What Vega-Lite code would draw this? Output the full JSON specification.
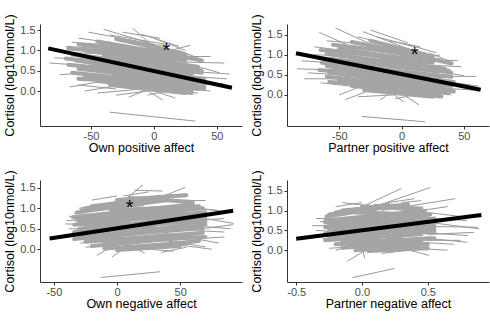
{
"$schema": "https://vega.github.io/schema/vega-lite/v6.json",
"padding": {"left": 3, "top": 13, "right": 4, "bottom": 2},
"background": "white",
"config": {
 "view": {"stroke": null},
 "font": "Liberation Sans",
 "axis": {"grid": false, "domainColor": "#333333", "tickColor": "#333333", "domainWidth": 1, "tickWidth": 1, "tickSize": 3, "labelFont": "Liberation Sans", "labelFontSize": 11, "labelColor": "#4d4d4d", "titleFont": "Liberation Sans", "titleFontSize": 12.5, "titleFontWeight": "normal", "titleColor": "#000000", "labelPadding": 2, "titlePadding": 3},
 "axisX": {"titlePadding": 0, "labelPadding": 1}
},
"datasets": {
 "core": [
  {"p":1,"x":-68,"y":1.05,"x2":10,"y2":0.85},{"p":1,"x":-60,"y":1.15,"x2":0,"y2":0.95},{"p":1,"x":-45,"y":1.22,"x2":15,"y2":0.9},{"p":1,"x":-30,"y":1.28,"x2":20,"y2":0.95},{"p":1,"x":-55,"y":1.0,"x2":35,"y2":0.6},{"p":1,"x":-65,"y":0.9,"x2":30,"y2":0.55},{"p":1,"x":-70,"y":0.8,"x2":38,"y2":0.45},{"p":1,"x":-62,"y":0.75,"x2":40,"y2":0.3},{"p":1,"x":-68,"y":0.65,"x2":25,"y2":0.35},{"p":1,"x":-60,"y":0.55,"x2":40,"y2":0.2},{"p":1,"x":-65,"y":0.45,"x2":30,"y2":0.15},{"p":1,"x":-55,"y":0.35,"x2":35,"y2":0.05},{"p":1,"x":-45,"y":0.25,"x2":30,"y2":0.0},{"p":1,"x":-35,"y":0.15,"x2":25,"y2":-0.05},{"p":1,"x":-20,"y":0.1,"x2":30,"y2":-0.05},{"p":1,"x":-50,"y":1.1,"x2":25,"y2":0.75},{"p":1,"x":-40,"y":0.9,"x2":38,"y2":0.5},{"p":1,"x":-58,"y":0.6,"x2":20,"y2":0.5},{"p":1,"x":-45,"y":0.5,"x2":38,"y2":0.25},{"p":1,"x":-25,"y":1.1,"x2":30,"y2":0.8},{"p":1,"x":-15,"y":1.2,"x2":25,"y2":0.9},{"p":1,"x":-50,"y":0.7,"x2":30,"y2":0.42},{"p":1,"x":-30,"y":0.4,"x2":40,"y2":0.1},{"p":1,"x":-60,"y":0.3,"x2":0,"y2":0.2},{"p":1,"x":-10,"y":0.3,"x2":40,"y2":0.05},{"p":1,"x":-35,"y":1.0,"x2":15,"y2":0.72},{"p":1,"x":-20,"y":0.75,"x2":35,"y2":0.55},{"p":1,"x":-5,"y":1.05,"x2":38,"y2":0.75},{"p":1,"x":-40,"y":0.3,"x2":10,"y2":0.05},{"p":1,"x":-55,"y":0.85,"x2":5,"y2":0.65},
  {"p":2,"x":-65,"y":1.12,"x2":5,"y2":0.9},{"p":2,"x":-55,"y":1.25,"x2":0,"y2":1.05},{"p":2,"x":-40,"y":1.32,"x2":12,"y2":1.02},{"p":2,"x":-25,"y":1.35,"x2":20,"y2":1.0},{"p":2,"x":-60,"y":1.02,"x2":35,"y2":0.65},{"p":2,"x":-66,"y":0.92,"x2":30,"y2":0.58},{"p":2,"x":-64,"y":0.8,"x2":40,"y2":0.45},{"p":2,"x":-60,"y":0.72,"x2":42,"y2":0.32},{"p":2,"x":-66,"y":0.62,"x2":25,"y2":0.38},{"p":2,"x":-58,"y":0.55,"x2":40,"y2":0.22},{"p":2,"x":-60,"y":0.45,"x2":32,"y2":0.15},{"p":2,"x":-50,"y":0.35,"x2":38,"y2":0.05},{"p":2,"x":-40,"y":0.22,"x2":30,"y2":0.02},{"p":2,"x":-30,"y":0.12,"x2":25,"y2":-0.05},{"p":2,"x":-15,"y":0.08,"x2":32,"y2":-0.04},{"p":2,"x":-50,"y":1.15,"x2":25,"y2":0.8},{"p":2,"x":-42,"y":0.95,"x2":40,"y2":0.55},{"p":2,"x":-55,"y":0.62,"x2":20,"y2":0.5},{"p":2,"x":-45,"y":0.5,"x2":40,"y2":0.28},{"p":2,"x":-25,"y":1.15,"x2":32,"y2":0.85},{"p":2,"x":-12,"y":1.22,"x2":25,"y2":0.95},{"p":2,"x":-50,"y":0.75,"x2":32,"y2":0.45},{"p":2,"x":-30,"y":0.4,"x2":40,"y2":0.12},{"p":2,"x":-58,"y":0.32,"x2":0,"y2":0.2},{"p":2,"x":-10,"y":0.3,"x2":42,"y2":0.08},{"p":2,"x":-35,"y":1.05,"x2":18,"y2":0.75},{"p":2,"x":-18,"y":0.8,"x2":38,"y2":0.6},{"p":2,"x":-2,"y":1.08,"x2":40,"y2":0.78},{"p":2,"x":-40,"y":0.32,"x2":10,"y2":0.02},{"p":2,"x":-58,"y":0.9,"x2":5,"y2":0.68},
  {"p":3,"x":-32,"y":0.9,"x2":40,"y2":1.2},{"p":3,"x":-20,"y":1.05,"x2":45,"y2":1.3},{"p":3,"x":0,"y":1.2,"x2":55,"y2":1.32},{"p":3,"x":-35,"y":0.78,"x2":60,"y2":1.1},{"p":3,"x":-30,"y":0.68,"x2":68,"y2":1.0},{"p":3,"x":-34,"y":0.6,"x2":70,"y2":0.9},{"p":3,"x":-30,"y":0.5,"x2":70,"y2":0.8},{"p":3,"x":-34,"y":0.42,"x2":65,"y2":0.7},{"p":3,"x":-30,"y":0.32,"x2":70,"y2":0.6},{"p":3,"x":-34,"y":0.25,"x2":60,"y2":0.5},{"p":3,"x":-25,"y":0.18,"x2":68,"y2":0.4},{"p":3,"x":-20,"y":0.08,"x2":60,"y2":0.3},{"p":3,"x":-10,"y":0.02,"x2":55,"y2":0.15},{"p":3,"x":0,"y":-0.02,"x2":50,"y2":0.08},{"p":3,"x":-28,"y":0.95,"x2":20,"y2":1.1},{"p":3,"x":10,"y":1.25,"x2":60,"y2":1.15},{"p":3,"x":-25,"y":0.55,"x2":55,"y2":0.95},{"p":3,"x":-15,"y":0.3,"x2":70,"y2":0.65},{"p":3,"x":-30,"y":0.4,"x2":30,"y2":0.55},{"p":3,"x":5,"y":0.2,"x2":70,"y2":0.3},{"p":3,"x":-20,"y":0.7,"x2":60,"y2":0.85},{"p":3,"x":-5,"y":0.95,"x2":65,"y2":1.05},{"p":3,"x":15,"y":0.05,"x2":65,"y2":0.2},{"p":3,"x":-32,"y":0.72,"x2":25,"y2":0.95},{"p":3,"x":-10,"y":0.15,"x2":40,"y2":0.35},{"p":3,"x":20,"y":0.75,"x2":70,"y2":0.7},{"p":3,"x":-25,"y":1.0,"x2":30,"y2":1.25},{"p":3,"x":-20,"y":0.25,"x2":35,"y2":0.25},{"p":3,"x":0,"y":0.5,"x2":68,"y2":0.5},{"p":3,"x":-15,"y":0.8,"x2":45,"y2":1.0},
  {"p":4,"x":-0.27,"y":0.85,"x2":0.25,"y2":1.12},{"p":4,"x":-0.15,"y":1.0,"x2":0.35,"y2":1.15},{"p":4,"x":0.0,"y":1.1,"x2":0.45,"y2":1.05},{"p":4,"x":-0.28,"y":0.75,"x2":0.45,"y2":0.98},{"p":4,"x":-0.25,"y":0.65,"x2":0.52,"y2":0.9},{"p":4,"x":-0.28,"y":0.58,"x2":0.55,"y2":0.8},{"p":4,"x":-0.25,"y":0.5,"x2":0.55,"y2":0.7},{"p":4,"x":-0.28,"y":0.42,"x2":0.5,"y2":0.6},{"p":4,"x":-0.25,"y":0.32,"x2":0.55,"y2":0.5},{"p":4,"x":-0.28,"y":0.25,"x2":0.45,"y2":0.4},{"p":4,"x":-0.2,"y":0.15,"x2":0.52,"y2":0.3},{"p":4,"x":-0.15,"y":0.06,"x2":0.45,"y2":0.2},{"p":4,"x":-0.05,"y":0.0,"x2":0.4,"y2":0.1},{"p":4,"x":0.05,"y":-0.02,"x2":0.5,"y2":0.05},{"p":4,"x":-0.25,"y":0.9,"x2":0.1,"y2":1.05},{"p":4,"x":0.1,"y":1.12,"x2":0.48,"y2":0.98},{"p":4,"x":-0.2,"y":0.55,"x2":0.45,"y2":0.85},{"p":4,"x":-0.1,"y":0.3,"x2":0.55,"y2":0.55},{"p":4,"x":-0.25,"y":0.4,"x2":0.2,"y2":0.5},{"p":4,"x":0.05,"y":0.2,"x2":0.55,"y2":0.3},{"p":4,"x":-0.15,"y":0.7,"x2":0.5,"y2":0.78},{"p":4,"x":-0.05,"y":0.95,"x2":0.5,"y2":0.9},{"p":4,"x":0.1,"y":0.05,"x2":0.5,"y2":0.15},{"p":4,"x":-0.28,"y":0.7,"x2":0.15,"y2":0.88},{"p":4,"x":-0.1,"y":0.12,"x2":0.3,"y2":0.3},{"p":4,"x":0.15,"y":0.7,"x2":0.55,"y2":0.62},{"p":4,"x":-0.2,"y":0.95,"x2":0.2,"y2":1.15},{"p":4,"x":-0.15,"y":0.25,"x2":0.3,"y2":0.22},{"p":4,"x":0.0,"y":0.48,"x2":0.55,"y2":0.45},{"p":4,"x":-0.1,"y":0.8,"x2":0.4,"y2":0.95}
 ],
 "edge": [
  {"p":1,"x":-52,"y":1.45,"x2":0,"y2":1.15},{"p":1,"x":-40,"y":1.52,"x2":2,"y2":1.13},{"p":1,"x":-17,"y":1.55,"x2":3,"y2":1.0},{"p":1,"x":-9,"y":1.13,"x2":8,"y2":1.13},{"p":1,"x":9,"y":0.96,"x2":29,"y2":1.13},{"p":1,"x":15,"y":0.72,"x2":56,"y2":0.69},{"p":1,"x":20,"y":0.5,"x2":60,"y2":0.42},{"p":1,"x":-83,"y":0.69,"x2":-40,"y2":0.6},{"p":1,"x":-79,"y":0.82,"x2":-30,"y2":0.72},{"p":1,"x":-67,"y":0.1,"x2":-26,"y2":0.32},{"p":1,"x":-55,"y":0.0,"x2":-15,"y2":0.2},{"p":1,"x":-20,"y":-0.15,"x2":0,"y2":0.1},{"p":1,"x":7,"y":-0.22,"x2":-10,"y2":0.1},{"p":1,"x":-5,"y":0.05,"x2":17,"y2":-0.17},{"p":1,"x":-35,"y":1.38,"x2":10,"y2":1.15},{"p":1,"x":-65,"y":1.2,"x2":-20,"y2":1.1},{"p":1,"x":25,"y":0.85,"x2":45,"y2":0.85},{"p":1,"x":-75,"y":0.95,"x2":-40,"y2":0.92},{"p":1,"x":30,"y":0.3,"x2":50,"y2":0.2},{"p":1,"x":-60,"y":0.15,"x2":-30,"y2":0.05},{"p":1,"x":15,"y":0.0,"x2":35,"y2":-0.05},{"p":1,"x":-10,"y":1.4,"x2":20,"y2":1.1},{"p":1,"x":-45,"y":-0.05,"x2":-10,"y2":0.05},{"p":1,"x":-35,"y":-0.52,"x2":33,"y2":-0.74},{"p":1,"x":-25,"y":1.45,"x2":5,"y2":1.3},{"p":1,"x":35,"y":0.6,"x2":52,"y2":0.45},
  {"p":1,"x":-70,"y":1.1,"x2":-45,"y2":1.05},{"p":1,"x":35,"y":0.35,"x2":58,"y2":0.3},{"p":1,"x":38,"y":0.15,"x2":55,"y2":0.18},{"p":1,"x":-60,"y":1.3,"x2":-35,"y2":1.2},{"p":1,"x":-5,"y":-0.1,"x2":25,"y2":0.1},{"p":1,"x":-30,"y":-0.1,"x2":-5,"y2":0.0},{"p":1,"x":20,"y":1.0,"x2":40,"y2":0.75},{"p":1,"x":-75,"y":0.4,"x2":-55,"y2":0.45},{"p":1,"x":0,"y":1.3,"x2":25,"y2":1.0},{"p":1,"x":30,"y":0.05,"x2":45,"y2":0.0},
  {"p":2,"x":-66,"y":1.56,"x2":-34,"y2":1.12},{"p":2,"x":-53,"y":1.67,"x2":-18,"y2":1.17},{"p":2,"x":-31,"y":1.58,"x2":7,"y2":1.13},{"p":2,"x":-35,"y":1.45,"x2":-12,"y2":1.27},{"p":2,"x":11,"y":0.87,"x2":31,"y2":1.0},{"p":2,"x":15,"y":0.86,"x2":45,"y2":0.86},{"p":2,"x":25,"y":0.46,"x2":60,"y2":0.46},{"p":2,"x":30,"y":0.35,"x2":55,"y2":0.25},{"p":2,"x":-84,"y":0.65,"x2":-53,"y2":0.62},{"p":2,"x":-80,"y":0.85,"x2":-55,"y2":0.8},{"p":2,"x":-50,"y":0.0,"x2":-25,"y2":0.3},{"p":2,"x":-45,"y":-0.12,"x2":-20,"y2":0.18},{"p":2,"x":-17,"y":-0.13,"x2":-5,"y2":0.15},{"p":2,"x":-10,"y":0.1,"x2":2,"y2":-0.18},{"p":2,"x":14,"y":-0.25,"x2":4,"y2":-0.05},{"p":2,"x":-32,"y":-0.54,"x2":19,"y2":-0.675},{"p":2,"x":-20,"y":1.45,"x2":10,"y2":1.2},{"p":2,"x":20,"y":0.75,"x2":48,"y2":0.7},{"p":2,"x":-70,"y":1.0,"x2":-40,"y2":0.98},{"p":2,"x":-65,"y":0.3,"x2":-35,"y2":0.2},{"p":2,"x":20,"y":0.05,"x2":40,"y2":0.0},{"p":2,"x":-10,"y":1.35,"x2":15,"y2":1.2},{"p":2,"x":35,"y":0.55,"x2":50,"y2":0.48},{"p":2,"x":-75,"y":0.55,"x2":-50,"y2":0.5},
  {"p":2,"x":-70,"y":1.2,"x2":-45,"y2":1.1},{"p":2,"x":38,"y":0.3,"x2":62,"y2":0.22},{"p":2,"x":40,"y":0.15,"x2":58,"y2":0.12},{"p":2,"x":-60,"y":1.35,"x2":-40,"y2":1.3},{"p":2,"x":-5,"y":-0.1,"x2":25,"y2":0.1},{"p":2,"x":-35,"y":-0.05,"x2":-5,"y2":0.0},{"p":2,"x":22,"y":1.05,"x2":42,"y2":0.8},{"p":2,"x":-78,"y":0.4,"x2":-55,"y2":0.4},{"p":2,"x":0,"y":1.3,"x2":28,"y2":1.05},{"p":2,"x":-25,"y":1.62,"x2":5,"y2":1.3},
  {"p":3,"x":-1.6,"y":1.02,"x2":20.6,"y2":1.57},{"p":3,"x":24,"y":1.14,"x2":54,"y2":1.51},{"p":3,"x":-2,"y":1.16,"x2":15,"y2":1.16},{"p":3,"x":14,"y":1.44,"x2":36,"y2":1.42},{"p":3,"x":45,"y":1.19,"x2":70,"y2":1.19},{"p":3,"x":63.5,"y":0.78,"x2":92.6,"y2":0.63},{"p":3,"x":55,"y":0.45,"x2":92,"y2":0.6},{"p":3,"x":45,"y":0.35,"x2":80.7,"y2":0.15},{"p":3,"x":30,"y":0.25,"x2":70,"y2":0.06},{"p":3,"x":-41,"y":0.62,"x2":-5,"y2":0.58},{"p":3,"x":-34,"y":0.87,"x2":5,"y2":0.8},{"p":3,"x":-29,"y":0.15,"x2":10,"y2":0.3},{"p":3,"x":-16,"y":-0.15,"x2":3,"y2":0.2},{"p":3,"x":-4,"y":-0.19,"x2":12,"y2":0.15},{"p":3,"x":10,"y":0.1,"x2":22,"y2":-0.1},{"p":3,"x":-13,"y":-0.69,"x2":34,"y2":-0.55},{"p":3,"x":-38,"y":0.8,"x2":-15,"y2":0.85},{"p":3,"x":60,"y":1.0,"x2":80,"y2":0.95},{"p":3,"x":60,"y":0.25,"x2":85,"y2":0.3},{"p":3,"x":5,"y":1.3,"x2":25,"y2":1.4},{"p":3,"x":-30,"y":1.0,"x2":-10,"y2":1.1},{"p":3,"x":25,"y":0.0,"x2":45,"y2":-0.05},{"p":3,"x":65,"y":0.45,"x2":85,"y2":0.42},{"p":3,"x":-38,"y":0.35,"x2":-15,"y2":0.4},
  {"p":3,"x":-40,"y":0.7,"x2":-20,"y2":0.72},{"p":3,"x":65,"y":1.0,"x2":88,"y2":0.9},{"p":3,"x":-38,"y":0.5,"x2":-15,"y2":0.5},{"p":3,"x":60,"y":0.7,"x2":85,"y2":0.75},{"p":3,"x":30,"y":1.3,"x2":55,"y2":1.35},{"p":3,"x":-20,"y":1.2,"x2":0,"y2":1.3},{"p":3,"x":50,"y":0.1,"x2":75,"y2":0.0},{"p":3,"x":-25,"y":0.05,"x2":0,"y2":0.1},{"p":3,"x":35,"y":-0.08,"x2":55,"y2":0.05},{"p":3,"x":70,"y":0.55,"x2":90,"y2":0.5},
  {"p":4,"x":-0.06,"y":1.0,"x2":0.3,"y2":1.56},{"p":4,"x":0.05,"y":1.05,"x2":0.52,"y2":1.58},{"p":4,"x":0.15,"y":1.0,"x2":0.71,"y2":1.3},{"p":4,"x":-0.25,"y":0.89,"x2":0.1,"y2":1.0},{"p":4,"x":0.4,"y":0.75,"x2":0.89,"y2":0.54},{"p":4,"x":0.45,"y":0.45,"x2":0.805,"y2":0.37},{"p":4,"x":0.35,"y":0.25,"x2":0.75,"y2":0.25},{"p":4,"x":0.25,"y":0.1,"x2":0.51,"y2":-0.13},{"p":4,"x":-0.38,"y":0.62,"x2":-0.05,"y2":0.62},{"p":4,"x":-0.32,"y":0.72,"x2":-0.02,"y2":0.68},{"p":4,"x":-0.2,"y":0.0,"x2":0.02,"y2":0.2},{"p":4,"x":-0.11,"y":-0.275,"x2":0.065,"y2":0.08},{"p":4,"x":0.0,"y":0.09,"x2":0.02,"y2":-0.2},{"p":4,"x":-0.073,"y":-0.69,"x2":0.245,"y2":-0.46},{"p":4,"x":0.35,"y":0.95,"x2":0.65,"y2":1.1},{"p":4,"x":0.5,"y":0.6,"x2":0.88,"y2":0.58},{"p":4,"x":-0.3,"y":0.3,"x2":-0.05,"y2":0.25},{"p":4,"x":0.3,"y":1.2,"x2":0.45,"y2":1.25},{"p":4,"x":-0.35,"y":0.5,"x2":-0.1,"y2":0.45},{"p":4,"x":0.45,"y":0.2,"x2":0.7,"y2":0.15},{"p":4,"x":-0.15,"y":1.2,"x2":0.1,"y2":1.1},{"p":4,"x":0.5,"y":0.8,"x2":0.8,"y2":0.75},
  {"p":4,"x":-0.35,"y":0.8,"x2":-0.1,"y2":0.8},{"p":4,"x":0.5,"y":0.95,"x2":0.75,"y2":0.85},{"p":4,"x":-0.33,"y":0.35,"x2":-0.1,"y2":0.35},{"p":4,"x":0.5,"y":0.4,"x2":0.85,"y2":0.45},{"p":4,"x":0.2,"y":1.2,"x2":0.4,"y2":1.3},{"p":4,"x":-0.2,"y":1.1,"x2":0.0,"y2":1.2},{"p":4,"x":0.4,"y":0.05,"x2":0.65,"y2":0.0},{"p":4,"x":-0.25,"y":0.05,"x2":0.0,"y2":0.1},{"p":4,"x":0.15,"y":-0.08,"x2":0.35,"y2":0.0},{"p":4,"x":0.5,"y":0.3,"x2":0.8,"y2":0.2}
 ],
 "fixed": [
  {"p":1,"x":-84,"y":1.05,"x2":62,"y2":0.08},
  {"p":2,"x":-84.7,"y":1.04,"x2":63.5,"y2":0.125},
  {"p":3,"x":-53.4,"y":0.26,"x2":92,"y2":0.94},
  {"p":4,"x":-0.5,"y":0.29,"x2":0.907,"y2":0.89}
 ],
 "stars": [
  {"p":1,"x":10,"y":1.1,"label":"*"},
  {"p":2,"x":10.5,"y":1.11,"label":"*"},
  {"p":3,"x":10,"y":1.14,"label":"*"}
 ]
},
"vconcat": [
 {"hconcat": [
  {"width": 202, "height": 102,
   "encoding": {
    "x": {"field": "x", "type": "quantitative", "scale": {"domain": [-90.5, 70], "nice": false, "zero": false}, "axis": {"values": [-50, 0, 50], "labelExpr": "replace(datum.label, '\u2212', '-')", "title": "Own positive affect"}},
    "y": {"field": "y", "type": "quantitative", "scale": {"domain": [-0.86, 1.65], "nice": false, "zero": false}, "axis": {"values": [0, 0.5, 1, 1.5], "format": ".1f", "title": "Cortisol (log10nmol/L)"}}
   },
   "layer": [
    {"data": {"name": "edge"}, "transform": [{"filter": "datum.p == 1"}], "mark": {"type": "rule", "color": "#999999", "strokeWidth": 1}, "encoding": {"x2": {"field": "x2"}, "y2": {"field": "y2"}}},
    {"data": {"name": "core"}, "transform": [{"filter": "datum.p == 1"}], "mark": {"type": "rule", "color": "#a5a5a5", "strokeWidth": 4, "strokeCap": "round"}, "encoding": {"x2": {"field": "x2"}, "y2": {"field": "y2"}}},
    {"data": {"name": "fixed"}, "transform": [{"filter": "datum.p == 1"}], "mark": {"type": "rule", "color": "#000000", "strokeWidth": 4}, "encoding": {"x2": {"field": "x2"}, "y2": {"field": "y2"}}},
    {"data": {"name": "stars"}, "transform": [{"filter": "datum.p == 1"}], "mark": {"type": "text", "fontSize": 20, "baseline": "alphabetic", "dy": 11, "color": "#000000", "font": "Liberation Sans"}, "encoding": {"text": {"field": "label"}}}
   ]
  },
  {"width": 202, "height": 102,
   "encoding": {
    "x": {"field": "x", "type": "quantitative", "scale": {"domain": [-91.9, 70.2], "nice": false, "zero": false}, "axis": {"values": [-50, 0, 50], "labelExpr": "replace(datum.label, '\u2212', '-')", "title": "Partner positive affect"}},
    "y": {"field": "y", "type": "quantitative", "scale": {"domain": [-0.78, 1.77], "nice": false, "zero": false}, "axis": {"values": [0, 0.5, 1, 1.5], "format": ".1f", "title": "Cortisol (log10nmol/L)"}}
   },
   "layer": [
    {"data": {"name": "edge"}, "transform": [{"filter": "datum.p == 2"}], "mark": {"type": "rule", "color": "#999999", "strokeWidth": 1}, "encoding": {"x2": {"field": "x2"}, "y2": {"field": "y2"}}},
    {"data": {"name": "core"}, "transform": [{"filter": "datum.p == 2"}], "mark": {"type": "rule", "color": "#a5a5a5", "strokeWidth": 4, "strokeCap": "round"}, "encoding": {"x2": {"field": "x2"}, "y2": {"field": "y2"}}},
    {"data": {"name": "fixed"}, "transform": [{"filter": "datum.p == 2"}], "mark": {"type": "rule", "color": "#000000", "strokeWidth": 4}, "encoding": {"x2": {"field": "x2"}, "y2": {"field": "y2"}}},
    {"data": {"name": "stars"}, "transform": [{"filter": "datum.p == 2"}], "mark": {"type": "text", "fontSize": 20, "baseline": "alphabetic", "dy": 11, "color": "#000000", "font": "Liberation Sans"}, "encoding": {"text": {"field": "label"}}}
   ]
  }
 ], "spacing": 8},
 {"hconcat": [
  {"width": 202, "height": 102,
   "encoding": {
    "x": {"field": "x", "type": "quantitative", "scale": {"domain": [-61, 99], "nice": false, "zero": false}, "axis": {"values": [-50, 0, 50], "labelExpr": "replace(datum.label, '\u2212', '-')", "title": "Own negative affect"}},
    "y": {"field": "y", "type": "quantitative", "scale": {"domain": [-0.8, 1.69], "nice": false, "zero": false}, "axis": {"values": [0, 0.5, 1, 1.5], "format": ".1f", "title": "Cortisol (log10nmol/L)"}}
   },
   "layer": [
    {"data": {"name": "edge"}, "transform": [{"filter": "datum.p == 3"}], "mark": {"type": "rule", "color": "#999999", "strokeWidth": 1}, "encoding": {"x2": {"field": "x2"}, "y2": {"field": "y2"}}},
    {"data": {"name": "core"}, "transform": [{"filter": "datum.p == 3"}], "mark": {"type": "rule", "color": "#a5a5a5", "strokeWidth": 4, "strokeCap": "round"}, "encoding": {"x2": {"field": "x2"}, "y2": {"field": "y2"}}},
    {"data": {"name": "fixed"}, "transform": [{"filter": "datum.p == 3"}], "mark": {"type": "rule", "color": "#000000", "strokeWidth": 4}, "encoding": {"x2": {"field": "x2"}, "y2": {"field": "y2"}}},
    {"data": {"name": "stars"}, "transform": [{"filter": "datum.p == 3"}], "mark": {"type": "text", "fontSize": 20, "baseline": "alphabetic", "dy": 11, "color": "#000000", "font": "Liberation Sans"}, "encoding": {"text": {"field": "label"}}}
   ]
  },
  {"width": 202, "height": 102,
   "encoding": {
    "x": {"field": "x", "type": "quantitative", "scale": {"domain": [-0.57, 0.965], "nice": false, "zero": false}, "axis": {"values": [-0.5, 0, 0.5], "format": ".1f", "labelExpr": "replace(datum.label, '\u2212', '-')", "title": "Partner negative affect"}},
    "y": {"field": "y", "type": "quantitative", "scale": {"domain": [-0.8, 1.77], "nice": false, "zero": false}, "axis": {"values": [0, 0.5, 1, 1.5], "format": ".1f", "title": "Cortisol (log10nmol/L)"}}
   },
   "layer": [
    {"data": {"name": "edge"}, "transform": [{"filter": "datum.p == 4"}], "mark": {"type": "rule", "color": "#999999", "strokeWidth": 1}, "encoding": {"x2": {"field": "x2"}, "y2": {"field": "y2"}}},
    {"data": {"name": "core"}, "transform": [{"filter": "datum.p == 4"}], "mark": {"type": "rule", "color": "#a5a5a5", "strokeWidth": 4, "strokeCap": "round"}, "encoding": {"x2": {"field": "x2"}, "y2": {"field": "y2"}}},
    {"data": {"name": "fixed"}, "transform": [{"filter": "datum.p == 4"}], "mark": {"type": "rule", "color": "#000000", "strokeWidth": 4}, "encoding": {"x2": {"field": "x2"}, "y2": {"field": "y2"}}}
   ]
  }
 ], "spacing": 8}
],
"spacing": 15
}
